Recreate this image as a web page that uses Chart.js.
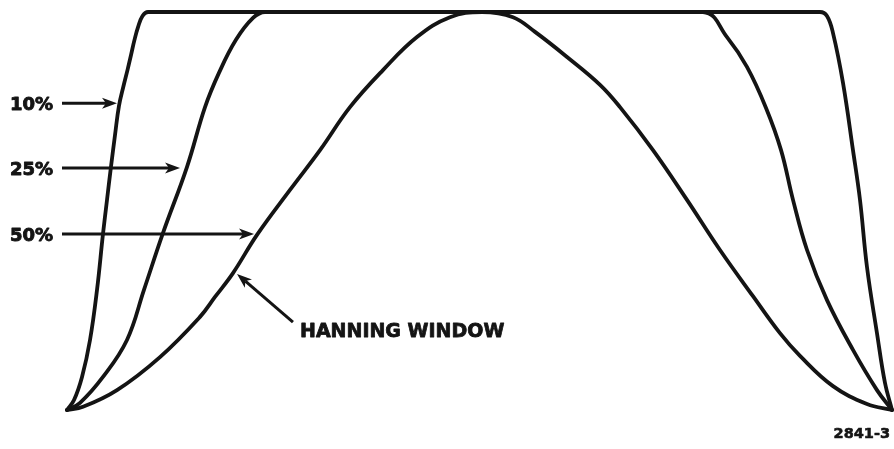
<!DOCTYPE html>
<html>
<head>
<meta charset="utf-8">
<script src="https://cdn.jsdelivr.net/npm/chart.js@4/dist/chart.umd.min.js"></script>
<style>
  html, body { margin: 0; padding: 0; background: #ffffff; }
  canvas { display: block; }
</style>
</head>
<body>
<canvas id="chart" width="894" height="449"></canvas>
<script>
// Tapered-cosine data windows: time in % of record length, gain 0..1.
const taperLabels = ['10%', '25%', '50%'];
const windowLabel = 'HANNING WINDOW';
const figureCode = '2841-3';

// 10% taper
const taper10X = [0, 0.85, 1.82, 2.79, 3.64, 4.36, 4.85, 5.33, 5.82, 6.30, 6.85, 7.33, 7.76, 8.18, 8.61, 9.15, 9.82,
                  91.27, 92.12, 92.85, 94.06, 95.27, 96.12, 96.97, 98.18, 99.15, 100];
const taper10Y = [0, 0.025, 0.083, 0.176, 0.302, 0.442, 0.528, 0.611, 0.691, 0.764, 0.814, 0.854, 0.892, 0.930, 0.962, 0.990, 1,
                  1, 0.990, 0.947, 0.822, 0.653, 0.528, 0.359, 0.193, 0.068, 0];

// 25% taper
const taper25X = [0, 1.58, 4.36, 7.27, 9.33, 11.64, 14.55, 16.73, 18.42, 20.48, 22.55, 24.0,
                  77.09, 80.0, 82.42, 84.73, 86.55, 88.0, 89.70, 92.12, 95.27, 98.18, 100];
const taper25Y = [0, 0.018, 0.083, 0.176, 0.302, 0.445, 0.611, 0.761, 0.847, 0.930, 0.985, 1,
                  1, 0.937, 0.862, 0.759, 0.653, 0.528, 0.402, 0.276, 0.151, 0.050, 0];

// 50% taper (Hanning window)
const hanningX = [0, 1.94, 6.06, 11.27, 16.12, 17.94, 20.12, 23.03, 27.03, 30.67, 34.30, 38.30, 42.42, 46.42, 50.30,
                  54.06, 56.73, 60.61, 64.61, 67.03, 71.03, 75.15, 79.15, 83.15, 86.42, 88.85, 92.85, 96.97, 100];
const hanningY = [0, 0.008, 0.050, 0.133, 0.234, 0.284, 0.344, 0.440, 0.553, 0.653, 0.761, 0.854, 0.937, 0.987, 1,
                  0.987, 0.950, 0.887, 0.817, 0.761, 0.653, 0.528, 0.402, 0.286, 0.193, 0.136, 0.060, 0.015, 0];

const toPoints = (xs, ys) => xs.map((x, i) => ({ x: x, y: ys[i] }));

const INK = '#141414';

// Callouts: arrow tips placed against the curves (data units)
const taperArrowTips = [[6.06, 0.771], [13.70, 0.608], [22.67, 0.442]];
const hanningArrow = { tip: [20.61, 0.342], tail: [27.39, 0.221], text: [28.24, 0.183] };
const codePos = [99.76, -0.070];

function drawArrow(ctx, x0, y0, x1, y1) {
  const head = 15, half = 5.5, notch = 11;
  const a = Math.atan2(y1 - y0, x1 - x0);
  const c = Math.cos(a), s = Math.sin(a);
  const bx = x1 - head * c, by = y1 - head * s;
  const nx = x1 - notch * c, ny = y1 - notch * s;
  ctx.beginPath();
  ctx.moveTo(x0, y0);
  ctx.lineTo(nx, ny);
  ctx.stroke();
  ctx.beginPath();
  ctx.moveTo(x1, y1);
  ctx.lineTo(bx - half * s, by + half * c);
  ctx.lineTo(nx, ny);
  ctx.lineTo(bx + half * s, by - half * c);
  ctx.closePath();
  ctx.fill();
}

function heavyText(ctx, text, x, y, weight) {
  ctx.lineWidth = weight;
  ctx.lineJoin = 'round';
  ctx.strokeText(text, x, y);
  ctx.fillText(text, x, y);
}

const calloutPlugin = {
  id: 'callouts',
  afterDatasetsDraw(chart) {
    const ctx = chart.ctx;
    const sx = chart.scales.x, sy = chart.scales.y;
    const px = v => sx.getPixelForValue(v);
    const py = v => sy.getPixelForValue(v);
    ctx.save();
    ctx.strokeStyle = INK;
    ctx.fillStyle = INK;
    ctx.lineCap = 'butt';

    // Horizontal arrows with percentage labels at the left margin
    taperLabels.forEach((label, i) => {
      const [tx, ty] = taperArrowTips[i];
      const y = py(ty);
      ctx.lineWidth = 3;
      drawArrow(ctx, 62, y, px(tx), y);
      ctx.font = 'bold 18px "DejaVu Sans"';
      ctx.textAlign = 'right';
      ctx.textBaseline = 'alphabetic';
      heavyText(ctx, label, 53, y + 6.5, 0.9);
    });

    // Diagonal arrow naming the Hanning curve
    ctx.lineWidth = 3;
    drawArrow(ctx, px(hanningArrow.tail[0]), py(hanningArrow.tail[1]),
                   px(hanningArrow.tip[0]), py(hanningArrow.tip[1]));
    ctx.font = 'bold 19px "DejaVu Sans"';
    ctx.textAlign = 'left';
    heavyText(ctx, windowLabel, px(hanningArrow.text[0]), py(hanningArrow.text[1]), 0.8);

    // Figure number
    ctx.font = 'bold 14.5px "DejaVu Sans"';
    ctx.textAlign = 'right';
    heavyText(ctx, figureCode, px(codePos[0]), py(codePos[1]), 0.6);
    ctx.restore();
  }
};

const lineStyle = {
  showLine: true,
  borderColor: INK,
  borderWidth: 3.8,
  pointRadius: 0,
  pointHoverRadius: 0,
  tension: 0.4,
  borderJoinStyle: 'round',
  borderCapStyle: 'round',
  fill: false,
  clip: false
};

new Chart(document.getElementById('chart'), {
  type: 'scatter',
  data: {
    datasets: [
      Object.assign({ label: taperLabels[0], data: toPoints(taper10X, taper10Y) }, lineStyle),
      Object.assign({ label: taperLabels[1], data: toPoints(taper25X, taper25Y) }, lineStyle),
      Object.assign({ label: taperLabels[2], data: toPoints(hanningX, hanningY) }, lineStyle)
    ]
  },
  options: {
    responsive: false,
    animation: false,
    layout: { padding: { left: 67, right: 2, top: 12, bottom: 39 } },
    scales: {
      x: { type: 'linear', min: 0, max: 100, display: false },
      y: { type: 'linear', min: 0, max: 1, display: false }
    },
    plugins: {
      legend: { display: false },
      tooltip: { enabled: false }
    },
    events: []
  },
  plugins: [calloutPlugin]
});
</script>
</body>
</html>
